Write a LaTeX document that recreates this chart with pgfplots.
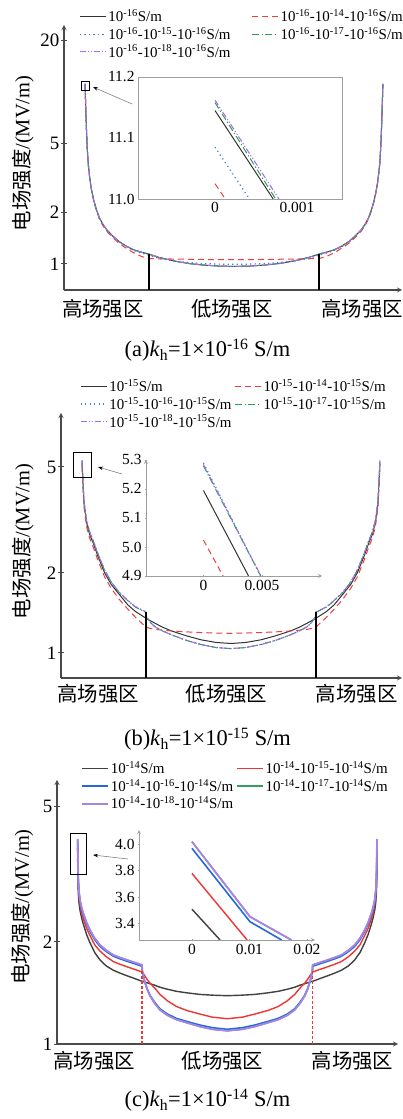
\documentclass[border=0pt]{standalone}
\usepackage{fontspec}
\setmainfont{Liberation Serif}
\newfontfamily\cjk{Noto Sans CJK SC}
\usepackage{pgfplots}
\usepackage{pgfplotstable}
\pgfplotsset{compat=1.18}
\usetikzlibrary{arrows.meta}

\definecolor{axcol}{HTML}{4A4A4A}
\definecolor{colblack}{HTML}{333333}
\definecolor{colred}{HTML}{F23C3C}
\definecolor{colblue}{HTML}{3F7FE6}
\definecolor{colgreen}{HTML}{2E9E55}
\definecolor{colpurple}{HTML}{A56BEA}
\definecolor{solblack}{HTML}{404040}
\definecolor{solred}{HTML}{EE3535}
\definecolor{solblue}{HTML}{2468DD}
\definecolor{solgreen}{HTML}{2FA05E}
\definecolor{solpurple}{HTML}{A883E6}

\pgfplotstableread{
x k r b g p
0 11.15 11.025 11.085 11.158 11.162
0.15 9.3 9.2 9.25 9.3 9.3
0.3 7.6 7.5 7.56 7.6 7.6
0.5 6.0 5.93 5.97 6.0 6.0
0.75 4.7 4.65 4.68 4.7 4.7
1.1 3.8 3.76 3.78 3.8 3.8
1.6 3.15 3.11 3.13 3.15 3.15
2.2 2.7 2.66 2.69 2.7 2.7
2.9 2.36 2.33 2.35 2.36 2.36
3.8 2.08 2.05 2.07 2.08 2.08
4.8 1.86 1.83 1.85 1.86 1.86
6 1.70 1.67 1.69 1.70 1.70
7.3 1.58 1.55 1.57 1.58 1.58
9.2 1.46 1.43 1.45 1.46 1.46
11.2 1.36 1.33 1.35 1.36 1.36
13.5 1.28 1.245 1.27 1.28 1.28
16.2 1.21 1.165 1.20 1.21 1.21
19 1.17 1.105 1.155 1.17 1.17
21.5 1.14 1.075 1.125 1.14 1.14
25 1.09 1.072 1.075 1.09 1.09
30 1.04 1.068 1.04 1.04 1.04
35 1.005 1.065 1.018 1.005 1.005
40 0.985 1.062 1.005 0.985 0.985
45 0.972 1.06 0.998 0.972 0.972
50 0.968 1.06 0.995 0.968 0.968
55 0.972 1.06 0.998 0.972 0.972
60 0.985 1.062 1.005 0.985 0.985
65 1.005 1.065 1.018 1.005 1.005
70 1.04 1.068 1.04 1.04 1.04
75 1.09 1.072 1.075 1.09 1.09
78.5 1.14 1.075 1.125 1.14 1.14
81 1.17 1.105 1.155 1.17 1.17
83.8 1.21 1.165 1.20 1.21 1.21
86.5 1.28 1.245 1.27 1.28 1.28
88.8 1.36 1.33 1.35 1.36 1.36
90.8 1.46 1.43 1.45 1.46 1.46
92.7 1.58 1.55 1.57 1.58 1.58
94 1.70 1.67 1.69 1.70 1.70
95.2 1.86 1.83 1.85 1.86 1.86
96.2 2.08 2.05 2.07 2.08 2.08
97.1 2.36 2.33 2.35 2.36 2.36
97.8 2.7 2.66 2.69 2.7 2.7
98.4 3.15 3.11 3.13 3.15 3.15
98.9 3.8 3.76 3.78 3.8 3.8
99.25 4.7 4.65 4.68 4.7 4.7
99.5 6.0 5.93 5.97 6.0 6.0
99.7 7.6 7.5 7.56 7.6 7.6
99.85 9.3 9.2 9.25 9.3 9.3
100 11.15 11.025 11.085 11.158 11.162
}\dataA

\pgfplotstableread{
x k r b g p
0 5.2 5.024 5.29 5.28 5.285
0.15 4.8 4.63 4.89 4.88 4.885
0.35 4.3 4.15 4.38 4.37 4.375
0.67 3.65 3.53 3.72 3.71 3.715
1.5 3.1 3.0 3.16 3.155 3.16
2.5 2.8 2.71 2.86 2.855 2.86
3.7 2.6 2.51 2.65 2.645 2.65
5.4 2.3 2.22 2.35 2.345 2.35
7.6 2.0 1.93 2.05 2.045 2.05
9.8 1.81 1.75 1.85 1.845 1.85
12.5 1.66 1.59 1.69 1.685 1.69
15.4 1.515 1.46 1.575 1.57 1.575
18 1.43 1.36 1.49 1.485 1.49
21.5 1.35 1.25 1.425 1.42 1.425
21.6 1.348 1.249 1.37 1.37 1.37
23 1.32 1.235 1.30 1.30 1.30
24.4 1.295 1.227 1.256 1.256 1.256
27 1.25 1.218 1.21 1.21 1.21
30 1.21 1.21 1.17 1.17 1.17
35 1.16 1.2 1.115 1.115 1.115
40 1.12 1.193 1.075 1.075 1.075
45 1.095 1.188 1.048 1.048 1.048
50 1.085 1.185 1.038 1.038 1.038
55 1.095 1.188 1.048 1.048 1.048
60 1.12 1.193 1.075 1.075 1.075
65 1.16 1.2 1.115 1.115 1.115
70 1.21 1.21 1.17 1.17 1.17
73 1.25 1.218 1.21 1.21 1.21
75.6 1.295 1.227 1.256 1.256 1.256
77 1.32 1.235 1.30 1.30 1.30
78.4 1.348 1.249 1.37 1.37 1.37
78.5 1.35 1.25 1.425 1.42 1.425
82 1.43 1.36 1.49 1.485 1.49
84.6 1.515 1.46 1.575 1.57 1.575
87.5 1.66 1.59 1.69 1.685 1.69
90.2 1.81 1.75 1.85 1.845 1.85
92.4 2.0 1.93 2.05 2.045 2.05
94.6 2.3 2.22 2.35 2.345 2.35
96.3 2.6 2.51 2.65 2.645 2.65
97.5 2.8 2.71 2.86 2.855 2.86
98.5 3.1 3.0 3.16 3.155 3.16
99.33 3.65 3.53 3.72 3.71 3.715
99.65 4.3 4.15 4.38 4.37 4.375
99.85 4.8 4.63 4.89 4.88 4.885
100 5.2 5.024 5.29 5.28 5.285
}\dataB

\pgfplotstableread{
x k r b g p
0 3.51 3.78 3.97 4.02 4.02
0.1 3.05 3.3 3.46 3.5 3.5
0.2 2.8 2.95 3.05 3.08 3.08
0.45 2.6 2.72 2.79 2.82 2.82
0.77 2.48 2.58 2.63 2.66 2.66
1.3 2.36 2.44 2.50 2.53 2.53
1.87 2.26 2.34 2.40 2.43 2.43
3 2.1 2.19 2.26 2.28 2.28
4.1 1.99 2.09 2.15 2.17 2.17
5.7 1.86 1.96 2.03 2.05 2.05
7.45 1.77 1.88 1.94 1.96 1.96
9.5 1.70 1.81 1.875 1.89 1.89
11.9 1.65 1.75 1.815 1.83 1.83
14 1.62 1.72 1.785 1.80 1.80
16.4 1.59 1.69 1.755 1.77 1.77
19 1.56 1.66 1.725 1.74 1.74
21.5 1.53 1.63 1.695 1.71 1.71
21.6 1.53 1.625 1.635 1.64 1.64
22.2 1.525 1.6 1.55 1.55 1.55
23.2 1.515 1.55 1.455 1.45 1.45
24.2 1.505 1.51 1.39 1.385 1.385
25.8 1.49 1.46 1.325 1.315 1.315
27.5 1.47 1.40 1.27 1.26 1.26
30 1.45 1.34 1.225 1.215 1.215
33 1.43 1.29 1.19 1.18 1.18
36.5 1.415 1.255 1.165 1.155 1.155
40.9 1.40 1.225 1.137 1.125 1.125
45 1.393 1.20 1.117 1.105 1.105
50 1.388 1.187 1.105 1.094 1.094
55 1.393 1.20 1.117 1.105 1.105
59.1 1.40 1.225 1.137 1.125 1.125
63.5 1.415 1.255 1.165 1.155 1.155
67 1.43 1.29 1.19 1.18 1.18
70 1.45 1.34 1.225 1.215 1.215
72.5 1.47 1.40 1.27 1.26 1.26
74.2 1.49 1.46 1.325 1.315 1.315
75.8 1.505 1.51 1.39 1.385 1.385
76.8 1.515 1.55 1.455 1.45 1.45
77.8 1.525 1.6 1.55 1.55 1.55
78.4 1.53 1.625 1.635 1.64 1.64
78.5 1.53 1.63 1.695 1.71 1.71
81 1.56 1.66 1.725 1.74 1.74
83.6 1.59 1.69 1.755 1.77 1.77
86 1.62 1.72 1.785 1.80 1.80
88.1 1.65 1.75 1.815 1.83 1.83
90.5 1.70 1.81 1.875 1.89 1.89
92.55 1.77 1.88 1.94 1.96 1.96
94.3 1.86 1.96 2.03 2.05 2.05
95.9 1.99 2.09 2.15 2.17 2.17
97 2.1 2.19 2.26 2.28 2.28
98.13 2.26 2.34 2.40 2.43 2.43
98.7 2.36 2.44 2.50 2.53 2.53
99.23 2.48 2.58 2.63 2.66 2.66
99.55 2.6 2.72 2.79 2.82 2.82
99.8 2.8 2.95 3.05 3.08 3.08
99.9 3.05 3.3 3.46 3.5 3.5
100 3.51 3.78 3.97 4.02 4.02
}\dataC

\tikzset{
  lnK/.style={color=colblack, line width=1bp, solid},
  lnR/.style={color=colred, line width=1bp, dash pattern=on 6bp off 4bp},
  lnB/.style={color=colblue, line width=1.2bp, dash pattern=on 1.2bp off 3.3bp},
  lnG/.style={color=colgreen, line width=1bp, dash pattern=on 7bp off 2.5bp on 1.2bp off 2.5bp},
  lnP/.style={color=colpurple, line width=1bp, dash pattern=on 6bp off 2bp on 1.2bp off 2bp on 1.2bp off 2bp},
  lcK/.style={color=solblack, line width=1.4bp, solid},
  lcR/.style={color=solred, line width=1.4bp, solid},
  lcB/.style={color=solblue, line width=1.6bp, solid},
  lcG/.style={color=solgreen, line width=1.4bp, solid},
  lcP/.style={color=solpurple, line width=1.8bp, solid},
}

\pgfplotsset{
  mainax/.style={
    scale only axis, anchor=south west,
    axis lines=left,
    every non boxed x axis/.append style={x axis line style={-}},
    every non boxed y axis/.append style={y axis line style={-}, ytick align=outside},
    axis line style={draw=axcol, line width=1.2bp},
    xtick style={draw=none},
    ytick style={draw=axcol, line width=1bp},
    major tick length=6bp,
    yminorticks=false,
    xticklabels={高场强区,低场强区,高场强区},
    x tick label style={font=\cjk\fontsize{20.5}{20.5}\selectfont, inner sep=0pt, anchor=north},
    y tick label style={font=\fontsize{19}{19}\selectfont, inner sep=1.5bp},
    ylabel={{\cjk 电场强度}/(MV/m)},
    ylabel style={anchor=center, font=\fontsize{20.5}{20.5}\selectfont},
    legend columns=2,
    legend cell align=left,
  },
  insetax/.style={
    scale only axis, anchor=south west, scaled ticks=false,
    axis background/.style={fill=white},
    axis line style={draw=gray!75, line width=0.8bp},
    tick style={draw=gray!75, line width=0.6bp},
    tick label style={font=\fontsize{15.5}{15.5}\selectfont},
  },
  legend image code/.code={\draw[#1] plot coordinates {(0bp,0bp) (13bp,0bp) (26bp,0bp)};},
}

\begin{document}
\begin{tikzpicture}
\useasboundingbox (0,0) rectangle (403bp,1119bp);

% ---------------- (a) ----------------
\begin{axis}[ymode=log, mainax, at={(64bp,829bp)}, width=338bp, height=265bp,
  xmin=-7.05, xmax=106.4, ymin=0.706, ymax=24.5,
  xtick={6,49.3,93},
  x tick label style={yshift=-6bp},
  ytick={1,2,5,20}, yticklabels={1,2,5,20},
  ylabel style={at={(axis description cs:-0.1213,0.515)}},
  legend style={draw=none, fill=none, anchor=north west, inner sep=0pt, row sep=0bp,
      font=\fontsize{15}{15}\selectfont,
      /tikz/column 2/.style={column sep=19bp},
      at={(axis description cs:0.0444,1.066)}}]
\addlegendimage{color=colblack, line width=1bp, solid}
\addlegendentry{10\textsuperscript{-16}S/m}
\addlegendimage{color=colred, line width=1bp, dash pattern=on 6bp off 4bp}
\addlegendentry{10\textsuperscript{-16}-10\textsuperscript{-14}-10\textsuperscript{-16}S/m}
\addlegendimage{color=colblue, line width=1.2bp, dash pattern=on 1.2bp off 3.3bp}
\addlegendentry{10\textsuperscript{-16}-10\textsuperscript{-15}-10\textsuperscript{-16}S/m}
\addlegendimage{color=colgreen, line width=1bp, dash pattern=on 7bp off 2.5bp on 1.2bp off 2.5bp}
\addlegendentry{10\textsuperscript{-16}-10\textsuperscript{-17}-10\textsuperscript{-16}S/m}
\addlegendimage{color=colpurple, line width=1bp, dash pattern=on 6bp off 2bp on 1.2bp off 2bp on 1.2bp off 2bp}
\addlegendentry{10\textsuperscript{-16}-10\textsuperscript{-18}-10\textsuperscript{-16}S/m}
\addplot[lnK, forget plot] table[x=x,y=k] {\dataA};
\addplot[lnR, forget plot] table[x=x,y=r] {\dataA};
\addplot[lnB, forget plot] table[x=x,y=b] {\dataA};
\addplot[lnG, forget plot] table[x=x,y=g] {\dataA};
\addplot[lnP, forget plot] table[x=x,y=p] {\dataA};
\addplot[black, line width=1.6bp, forget plot] coordinates {(21.5,0.706) (21.5,1.15)};
\addplot[black, line width=1.6bp, forget plot] coordinates {(78.5,0.706) (78.5,1.15)};
\end{axis}

\begin{axis}[insetax, at={(138bp,920bp)}, width=204bp, height=122bp,
  xmin=-0.00094, xmax=0.00155, ymin=11.0, ymax=11.2,
  major tick length=0pt,
  xtick={0,0.001}, xticklabels={0,0.001},
  ytick={11.0,11.1,11.2}, yticklabels={11.0,11.1,11.2}]
\addplot[lnK] coordinates {(0,11.145) (0.00071,11.0)};
\addplot[lnR] coordinates {(0,11.025) (0.000125,11.0)};
\addplot[lnB] coordinates {(0,11.085) (0.00042,11.0)};
\addplot[lnG] coordinates {(0,11.158) (0.00074,11.0)};
\addplot[lnP] coordinates {(0,11.162) (0.00078,11.0)};
\end{axis}

\draw[black, line width=1bp] (81bp,1028bp) rectangle (89bp,1037bp);
\draw[gray, line width=0.6bp, -{Stealth[length=5bp,width=3.5bp,black]}] (132bp,1015bp) -- (93bp,1032bp);

\node[font=\fontsize{22.5}{22.5}\selectfont] at (207.5bp,769bp) {(a)\textit{k}\textsubscript{h}=1×10\textsuperscript{-16} S/m};

% ---------------- (b) ----------------
\begin{axis}[ymode=log, mainax, at={(61bp,441bp)}, width=341bp, height=265bp,
  xmin=-7.05, xmax=107.4, ymin=0.805, ymax=7.98,
  xtick={5.5,48.5,92.2},
  x tick label style={yshift=-3.5bp},
  ytick={1,2,5}, yticklabels={1,2,5},
  ylabel style={at={(axis description cs:-0.1114,0.515)}},
  legend style={draw=none, fill=none, anchor=north west, inner sep=0pt, row sep=0bp,
      font=\fontsize{15}{15}\selectfont,
      /tikz/column 2/.style={column sep=1bp},
      at={(axis description cs:0.0557,1.134)}}]
\addlegendimage{color=colblack, line width=1bp, solid}
\addlegendentry{10\textsuperscript{-15}S/m}
\addlegendimage{color=colred, line width=1bp, dash pattern=on 6bp off 4bp}
\addlegendentry{10\textsuperscript{-15}-10\textsuperscript{-14}-10\textsuperscript{-15}S/m}
\addlegendimage{color=colblue, line width=1.2bp, dash pattern=on 1.2bp off 3.3bp}
\addlegendentry{10\textsuperscript{-15}-10\textsuperscript{-16}-10\textsuperscript{-15}S/m}
\addlegendimage{color=colgreen, line width=1bp, dash pattern=on 7bp off 2.5bp on 1.2bp off 2.5bp}
\addlegendentry{10\textsuperscript{-15}-10\textsuperscript{-17}-10\textsuperscript{-15}S/m}
\addlegendimage{color=colpurple, line width=1bp, dash pattern=on 6bp off 2bp on 1.2bp off 2bp on 1.2bp off 2bp}
\addlegendentry{10\textsuperscript{-15}-10\textsuperscript{-18}-10\textsuperscript{-15}S/m}
\addplot[lnK, forget plot] table[x=x,y=k] {\dataB};
\addplot[lnR, forget plot] table[x=x,y=r] {\dataB};
\addplot[lnB, forget plot] table[x=x,y=b] {\dataB};
\addplot[lnG, forget plot] table[x=x,y=g] {\dataB};
\addplot[lnP, forget plot] table[x=x,y=p] {\dataB};
\addplot[black, line width=1.8bp, forget plot] coordinates {(21.5,0.805) (21.5,1.43)};
\addplot[black, line width=1.8bp, forget plot] coordinates {(78.5,0.805) (78.5,1.43)};
\end{axis}

\begin{axis}[insetax, at={(146bp,543bp)}, width=176bp, height=116bp,
  axis lines=left,
  every non boxed x axis/.append style={x axis line style={-}, xtick align=outside},
  every non boxed y axis/.append style={y axis line style={-}, ytick align=outside},
  major tick length=2bp,
  xmin=-0.00491, xmax=0.01014, ymin=4.9, ymax=5.3,
  xtick={0,0.005,0.01}, xticklabels={0,0.005,{}},
  ytick={4.9,5.0,5.1,5.2,5.3}, yticklabels={4.9,5.0,5.1,5.2,5.3}]
\addplot[lnK] coordinates {(0,5.195) (0.00386,4.9)};
\addplot[lnR] coordinates {(0,5.024) (0.00168,4.9)};
\addplot[lnB] coordinates {(0,5.29) (0.00488,4.9)};
\addplot[lnG] coordinates {(0,5.28) (0.0049,4.9)};
\addplot[lnP] coordinates {(0,5.285) (0.00492,4.9)};
\end{axis}

\draw[black, line width=1bp] (73bp,641bp) rectangle (91bp,666bp);
\draw[gray, line width=0.6bp, -{Stealth[length=5bp,width=3.5bp,black]}] (122bp,645bp) -- (98bp,652bp);

\node[font=\fontsize{22.5}{22.5}\selectfont] at (207.5bp,380bp) {(b)\textit{k}\textsubscript{h}=1×10\textsuperscript{-15} S/m};

% ---------------- (c) ----------------
\begin{axis}[ymode=log, mainax, at={(57bp,75bp)}, width=341bp, height=264bp,
  xmin=-6.9, xmax=107.0, ymin=1, ymax=6.0,
  xtick={5.5,48.4,91.8},
  x tick label style={yshift=-4bp},
  ytick={1,2,5}, yticklabels={1,2,5},
  ylabel style={at={(axis description cs:-0.1012,0.519)}},
  legend style={draw=none, fill=none, anchor=north west, inner sep=0pt, row sep=0bp,
      font=\fontsize{15}{15}\selectfont,
      /tikz/column 2/.style={column sep=1bp},
      at={(axis description cs:0.0704,1.078)}}]
\addlegendimage{color=solblack, line width=1.4bp, solid}
\addlegendentry{10\textsuperscript{-14}S/m}
\addlegendimage{color=solred, line width=1.4bp, solid}
\addlegendentry{10\textsuperscript{-14}-10\textsuperscript{-15}-10\textsuperscript{-14}S/m}
\addlegendimage{color=solblue, line width=1.6bp, solid}
\addlegendentry{10\textsuperscript{-14}-10\textsuperscript{-16}-10\textsuperscript{-14}S/m}
\addlegendimage{color=solgreen, line width=1.4bp, solid}
\addlegendentry{10\textsuperscript{-14}-10\textsuperscript{-17}-10\textsuperscript{-14}S/m}
\addlegendimage{color=solpurple, line width=1.8bp, solid}
\addlegendentry{10\textsuperscript{-14}-10\textsuperscript{-18}-10\textsuperscript{-14}S/m}
\addplot[lcK, forget plot] table[x=x,y=k] {\dataC};
\addplot[lcR, forget plot] table[x=x,y=r] {\dataC};
\addplot[lcB, forget plot] table[x=x,y=b] {\dataC};
\addplot[lcG, forget plot] table[x=x,y=g] {\dataC};
\addplot[lcP, forget plot] table[x=x,y=p] {\dataC};
\addplot[solred, line width=1.5bp, dash pattern=on 3bp off 2bp, forget plot] coordinates {(21.5,1) (21.5,1.64)};
\addplot[solred, line width=1.5bp, dash pattern=on 3bp off 2bp, forget plot] coordinates {(78.5,1) (78.5,1.64)};
\end{axis}

\begin{axis}[insetax, at={(139bp,179bp)}, width=176bp, height=110bp,
  axis lines=left,
  every non boxed x axis/.append style={x axis line style={-}, xtick align=outside},
  every non boxed y axis/.append style={y axis line style={-}, ytick align=outside},
  major tick length=2bp,
  xmin=-0.0092, xmax=0.0214, ymin=3.277, ymax=4.108,
  xtick={0,0.01,0.02}, xticklabels={0,0.01,0.02},
  ytick={3.4,3.6,3.8,4.0}, yticklabels={3.4,3.6,3.8,4.0}]
\addplot[lcK] coordinates {(0,3.51) (0.0049,3.277)};
\addplot[lcR] coordinates {(0,3.78) (0.0096,3.277)};
\addplot[lcB] coordinates {(0,3.97) (0.0101,3.415) (0.0156,3.277)};
\addplot[lcG] coordinates {(0,4.02) (0.0101,3.453) (0.0173,3.277)};
\addplot[lcP] coordinates {(0,4.02) (0.0101,3.453) (0.0173,3.277)};
\end{axis}

\draw[black, line width=1bp] (70bp,244bp) rectangle (86bp,285bp);
\draw[gray, line width=0.6bp, -{Stealth[length=5bp,width=3.5bp,black]}] (128bp,260bp) -- (93bp,264bp);

\node[font=\fontsize{22.5}{22.5}\selectfont] at (207.5bp,19bp) {(c)\textit{k}\textsubscript{h}=1×10\textsuperscript{-14} S/m};
\end{tikzpicture}
\end{document}
